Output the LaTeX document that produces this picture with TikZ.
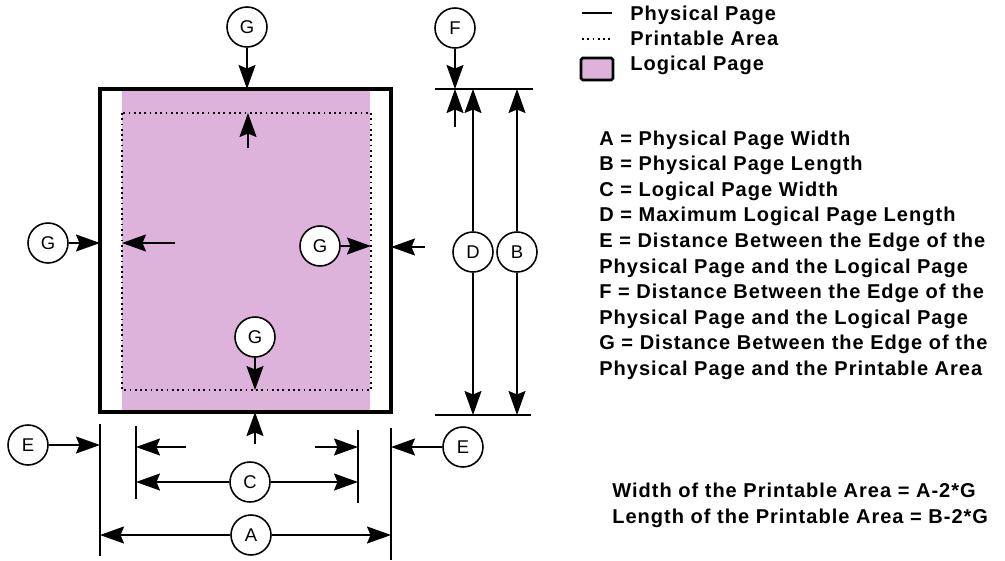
\documentclass[tikz,border=0pt]{standalone}
\usepackage{fontspec}
\setmainfont{Liberation Sans}
\newfontfamily\keyfont{Liberation Sans}[LetterSpace=5]
\usetikzlibrary{arrows.meta}
\definecolor{logpink}{RGB}{221,178,219}
\tikzset{
	tag/.style={circle, draw, line width=0.9pt, fill=white, minimum size=0.8cm, inner sep=0pt, font=\fontsize{10.5}{12}\selectfont},
	dimarrow/.style={line width=1pt, -{Stealth[length=4.8mm,width=3.4mm,inset=0.7mm]}},
	dimline/.style={line width=1pt},
	legendtext/.style={anchor=base west, inner sep=0pt, font=\keyfont\bfseries\fontsize{11.4}{12}\selectfont},
}

\begin{document}
\begin{tikzpicture}[x=0.02cm, y=-0.02cm]
			%%%%% START %%%%%
			\useasboundingbox (0,0) rectangle (1005,561);
			
			\fill[logpink] (122,89) rectangle (370,412);
			\draw[line width=1.8pt] (100,89) rectangle (391,412);
			\draw[line width=1pt, dotted] (122,113) rectangle (371,390);
			
			\node[tag] (gtop) at (247,27) {G};
			\node[tag] (gleft) at (48,243) {G};
			\node[tag] (gright) at (320,246) {G};
			\node[tag] (gbot) at (255,337) {G};
			\node[tag] (eleft) at (28,445) {E};
			\node[tag] (eright) at (463,447) {E};
			\node[tag] (cdim) at (250,482) {C};
			\node[tag] (adim) at (251,535) {A};
			\node[tag] (fdim) at (455,28) {F};
			\node[tag] (ddim) at (473,252) {D};
			\node[tag] (bdim) at (517,252) {B};
			
			\coordinate (gtopend) at (247,89);
			\coordinate (ginnertop) at (248,113);
			\coordinate (ginnertail) at (248,148);
			\coordinate (gleftend) at (100,243);
			\coordinate (ginnerleft) at (122,243);
			\coordinate (ginnerlefttail) at (175,243);
			\coordinate (grightend) at (371,246);
			\coordinate (gouterright) at (391,247);
			\coordinate (gouterrighttail) at (425,247);
			\coordinate (gbotend) at (255,390);
			\coordinate (gouterbot) at (255,412);
			\coordinate (gouterbottail) at (255,444);
			
			\draw[dimarrow] (gtop) -- (gtopend);
			\draw[dimarrow] (ginnertail) -- (ginnertop);
			\draw[dimarrow] (gleft) -- (gleftend);
			\draw[dimarrow] (ginnerlefttail) -- (ginnerleft);
			\draw[dimarrow] (gright) -- (grightend);
			\draw[dimarrow] (gouterrighttail) -- (gouterright);
			\draw[dimarrow] (gbot) -- (gbotend);
			\draw[dimarrow] (gouterbottail) -- (gouterbot);
			
			% width dimensions
			\coordinate (pl1) at (100,424);
			\coordinate (pl2) at (100,556);
			\coordinate (pr1) at (391,428);
			\coordinate (pr2) at (391,560);
			\coordinate (ll1) at (136,426);
			\coordinate (ll2) at (136,499);
			\coordinate (lr1) at (358,430);
			\coordinate (lr2) at (358,503);
			\draw[dimline] (pl1) -- (pl2);
			\draw[dimline] (pr1) -- (pr2);
			\draw[dimline] (ll1) -- (ll2);
			\draw[dimline] (lr1) -- (lr2);
			
			\coordinate (eleftend) at (100,445);
			\coordinate (erightend) at (391,447);
			\coordinate (cltail) at (186,447);
			\coordinate (clend) at (136,447);
			\coordinate (crtail) at (315,447);
			\coordinate (crend) at (358,447);
			\draw[dimarrow] (eleft) -- (eleftend);
			\draw[dimarrow] (eright) -- (erightend);
			\draw[dimarrow] (cltail) -- (clend);
			\draw[dimarrow] (crtail) -- (crend);
			
			\coordinate (cleft) at (136,482);
			\coordinate (cright) at (358,482);
			\coordinate (aleft) at (100,535);
			\coordinate (aright) at (391,535);
			\draw[dimarrow] (cdim) -- (cleft);
			\draw[dimarrow] (cdim) -- (cright);
			\draw[dimarrow] (adim) -- (aleft);
			\draw[dimarrow] (adim) -- (aright);
			
			% length dimensions
			\coordinate (topl) at (435,89);
			\coordinate (topr) at (533,89);
			\coordinate (botl) at (435,415);
			\coordinate (botr) at (531,415);
			\draw[dimline] (topl) -- (topr);
			\draw[dimline] (botl) -- (botr);
			
			\coordinate (fend) at (455,89);
			\coordinate (ftail) at (455,127);
			\draw[dimarrow] (fdim) -- (fend);
			\draw[dimarrow] (ftail) -- (fend);
			
			\coordinate (dtop) at (473,89);
			\coordinate (dbot) at (473,415);
			\coordinate (btop) at (517,89);
			\coordinate (bbot) at (517,415);
			\draw[dimarrow] (ddim) -- (dtop);
			\draw[dimarrow] (ddim) -- (dbot);
			\draw[dimarrow] (bdim) -- (btop);
			\draw[dimarrow] (bdim) -- (bbot);
			
			% legend
			\coordinate (solid1) at (582,13);
			\coordinate (solid2) at (612,13);
			\coordinate (dot1) at (582,39);
			\coordinate (dot2) at (612,39);
			\draw[dimline] (solid1) -- (solid2);
			\draw[dimline, dotted] (dot1) -- (dot2);
			\draw[line width=1.6pt, fill=logpink, rounded corners=1pt] (581,58) rectangle (613,80);
			\node[legendtext] (physkey) at (630,20) {Physical Page};
			\node[legendtext] (printkey) at (630,45.5) {Printable Area};
			\node[legendtext] (logkey) at (630,71) {Logical Page};
			
			\node[legendtext] (defa) at (599,145) {A = Physical Page Width};
			\node[legendtext] (defb) at (599,170.6) {B = Physical Page Length};
			\node[legendtext] (defc) at (599,196.2) {C = Logical Page Width};
			\node[legendtext] (defd) at (599,221.8) {D = Maximum Logical Page Length};
			\node[legendtext] (defe) at (599,247.4) {E = Distance Between the Edge of the};
			\node[legendtext] (defe2) at (599,273) {Physical Page and the Logical Page};
			\node[legendtext] (deff) at (599,298.6) {F = Distance Between the Edge of the};
			\node[legendtext] (deff2) at (599,324.2) {Physical Page and the Logical Page};
			\node[legendtext] (defg) at (599,349.8) {G = Distance Between the Edge of the};
			\node[legendtext] (defg2) at (599,375.4) {Physical Page and the Printable Area};
			
			\node[legendtext] (widthform) at (612,497) {Width of the Printable Area = A-2*G};
			\node[legendtext] (lengthform) at (612,523) {Length of the Printable Area = B-2*G};
			
			%%%%% END %%%%%
\end{tikzpicture}
\end{document}
